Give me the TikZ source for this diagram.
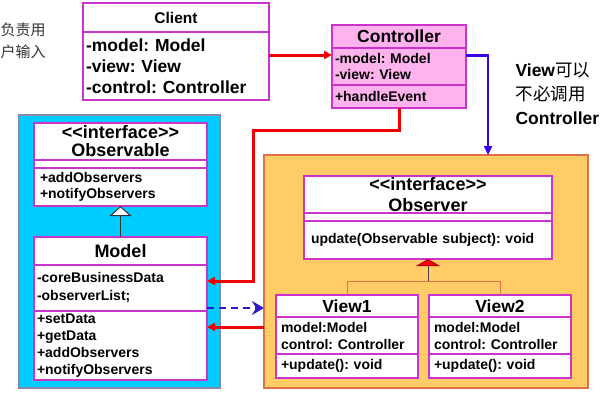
\documentclass[tikz,border=0pt]{standalone}
\usepackage{fontspec}
\setmainfont{Liberation Sans}
\newfontfamily\cjk{Noto Sans CJK SC}
\usetikzlibrary{arrows.meta,positioning}

\definecolor{umlline}{HTML}{CC33CC}
\definecolor{ctrlfill}{HTML}{FFB3EC}
\definecolor{modelfill}{HTML}{00CCFF}
\definecolor{modelline}{HTML}{8888AA}
\definecolor{viewfill}{HTML}{FFCC66}
\definecolor{viewline}{HTML}{E0704A}
\definecolor{callred}{HTML}{EE0000}
\definecolor{notifyblue}{HTML}{3A00F0}
\definecolor{dashblue}{HTML}{2A1ACC}

\newcommand\stereo[1]{<\kern0pt<#1>\kern0pt>}

\begin{document}
\frenchspacing
\begin{tikzpicture}[
    x=1pt, y=-1pt,
    umlhead/.style={draw=umlline, fill=white, line width=1.3pt, outer sep=0pt, inner sep=1pt, align=center, font=\bfseries\fontsize{17.5}{18}\selectfont},
    umlpart/.style={draw=umlline, fill=white, line width=1.3pt, outer sep=0pt, inner xsep=3pt, inner ysep=0pt, align=left, text width=#1, font=\bfseries\fontsize{14}{17}\selectfont},
    pkgbox/.style={line width=1.2pt, outer sep=0pt, inner sep=0pt},
    call/.style={-{Triangle[length=8pt,width=8pt]}, draw=callred, line width=3pt},
    notify/.style={-{Triangle[length=9pt,width=8pt]}, draw=notifyblue, line width=2.6pt},
    observe/.style={-{Stealth[length=12pt,width=14pt,inset=4pt]}, draw=dashblue, line width=2.6pt, dash pattern=on 7pt off 5pt},
    extends/.style={-{Triangle[length=10pt,width=22pt,fill=white]}, draw=black!80, line width=1pt},
    realizes/.style={-{Triangle[length=7pt,width=24pt,fill=red,color=red!70!black]}, draw=black!75, line width=1pt},
    viewlink/.style={draw=viewline, line width=1pt},
    note/.style={align=left, font=\fontsize{17.5}{24}\selectfont}
]
\useasboundingbox (0,0) rectangle (600,400);

\node[pkgbox, draw=modelline, fill=modelfill, minimum width=201pt, minimum height=273pt] (modelgroup) at (119.5,251.5) {};
\node[pkgbox, draw=viewline, fill=viewfill, minimum width=324pt, minimum height=233pt] (viewgroup) at (426,271.5) {};

\node[align=left, text=black!80, inner sep=0pt, font=\cjk\fontsize{15}{22}\selectfont, anchor=west] (usernote) at (0.5,41) {负责用\\户输入};
\node[note, anchor=west] (viewnote) at (512,94) {\textbf{View}{\cjk 可以}\\{\cjk 不必调用}\\\textbf{Controller}};

\node[umlhead, minimum width=186pt, minimum height=29pt, font=\bfseries\fontsize{15.5}{17}\selectfont] (clienthead) at (176,17.5) {Client};
\node[umlpart=180pt, below=0pt of clienthead, minimum height=68pt, font=\bfseries\fontsize{17.5}{21}\selectfont] (clientattr) {-model: Model\\-view: View\\-control: Controller};

\node[umlhead, fill=ctrlfill, minimum width=134pt, minimum height=23pt] (ctrlhead) at (399,36.5) {Controller};
\node[umlpart=128pt, fill=ctrlfill, below=0pt of ctrlhead, minimum height=37pt, font=\bfseries\fontsize{14}{16}\selectfont] (ctrlattr) {-model: Model\\-view: View};
\node[umlpart=128pt, fill=ctrlfill, below=0pt of ctrlattr, minimum height=23pt] (ctrlmeth) {+handleEvent};

\node[umlhead, minimum width=173pt, minimum height=37pt, font=\bfseries\fontsize{18}{18}\selectfont] (obshead) at (120.5,141.5) {\stereo{interface}\\Observable};
\node[umlpart=167pt, below=0pt of obshead, minimum height=8pt] (obsattr) {};
\node[umlpart=161pt, inner xsep=6pt, below=0pt of obsattr, minimum height=38pt, font=\bfseries\fontsize{14}{16.5}\selectfont] (obsmeth) {+addObservers\\+notifyObservers};

\node[umlhead, minimum width=173pt, minimum height=28pt, font=\bfseries\fontsize{18}{18}\selectfont] (modelhead) at (120.5,251) {Model};
\node[umlpart=167pt, below=0pt of modelhead, minimum height=46pt, font=\bfseries\fontsize{14}{18}\selectfont] (modelattr) {-coreBusinessData\\-observerList;};
\node[umlpart=167pt, below=0pt of modelattr, minimum height=69pt] (modelmeth) {+setData\\+getData\\+addObservers\\+notifyObservers};

\node[umlhead, minimum width=248pt, minimum height=37pt, font=\bfseries\fontsize{18}{21}\selectfont] (obvhead) at (428,194.5) {\stereo{interface}\\Observer};
\node[umlpart=242pt, below=0pt of obvhead, minimum height=8pt] (obvattr) {};
\node[umlpart=234pt, inner xsep=7pt, below=0pt of obvattr, minimum height=38pt] (obvmeth) {update(Observable subject): void};

\node[umlhead, minimum width=142pt, minimum height=22pt] (viewahead) at (347,306) {View1};
\node[umlpart=132pt, inner xsep=5pt, below=0pt of viewahead, minimum height=37pt] (viewaattr) {model:Model\\control: Controller};
\node[umlpart=132pt, inner xsep=5pt, below=0pt of viewaattr, minimum height=24pt] (viewameth) {+update(): void};

\node[umlhead, minimum width=142pt, minimum height=22pt] (viewbhead) at (500,306) {View2};
\node[umlpart=132pt, inner xsep=5pt, below=0pt of viewbhead, minimum height=37pt] (viewbattr) {model:Model\\control: Controller};
\node[umlpart=132pt, inner xsep=5pt, below=0pt of viewbattr, minimum height=24pt] (viewbmeth) {+update(): void};

\coordinate (clientout) at ([yshift=11pt]clientattr.east);
\coordinate (ctrlout) at ([yshift=11pt]ctrlattr.east);
\coordinate (modelin) at ([yshift=7pt]modelattr.east);
\coordinate (modelout) at ([yshift=3pt]modelattr.south east);
\coordinate (modelcall) at ([yshift=-16pt]modelmeth.north east);

\draw[call] (clientout) -- (clientout -| ctrlattr.west);
\draw[notify] (ctrlout) -| ([xshift=62pt]viewgroup.north);
\draw[call] (ctrlmeth.south) -- ++(0,22) -| ([xshift=46pt]modelin) -- (modelin);
\draw[observe] (modelout) -- (modelout -| viewgroup.west);
\draw[call] (modelcall -| viewgroup.west) -- (modelcall);
\draw[extends] (modelhead.north) -- (obsmeth.south);
\draw[viewlink] (viewahead.north) -- ++(0,-14) -| (viewbhead.north);
\draw[realizes] ([yshift=-22pt]obvmeth.south) -- (obvmeth.south);
\end{tikzpicture}
\end{document}
